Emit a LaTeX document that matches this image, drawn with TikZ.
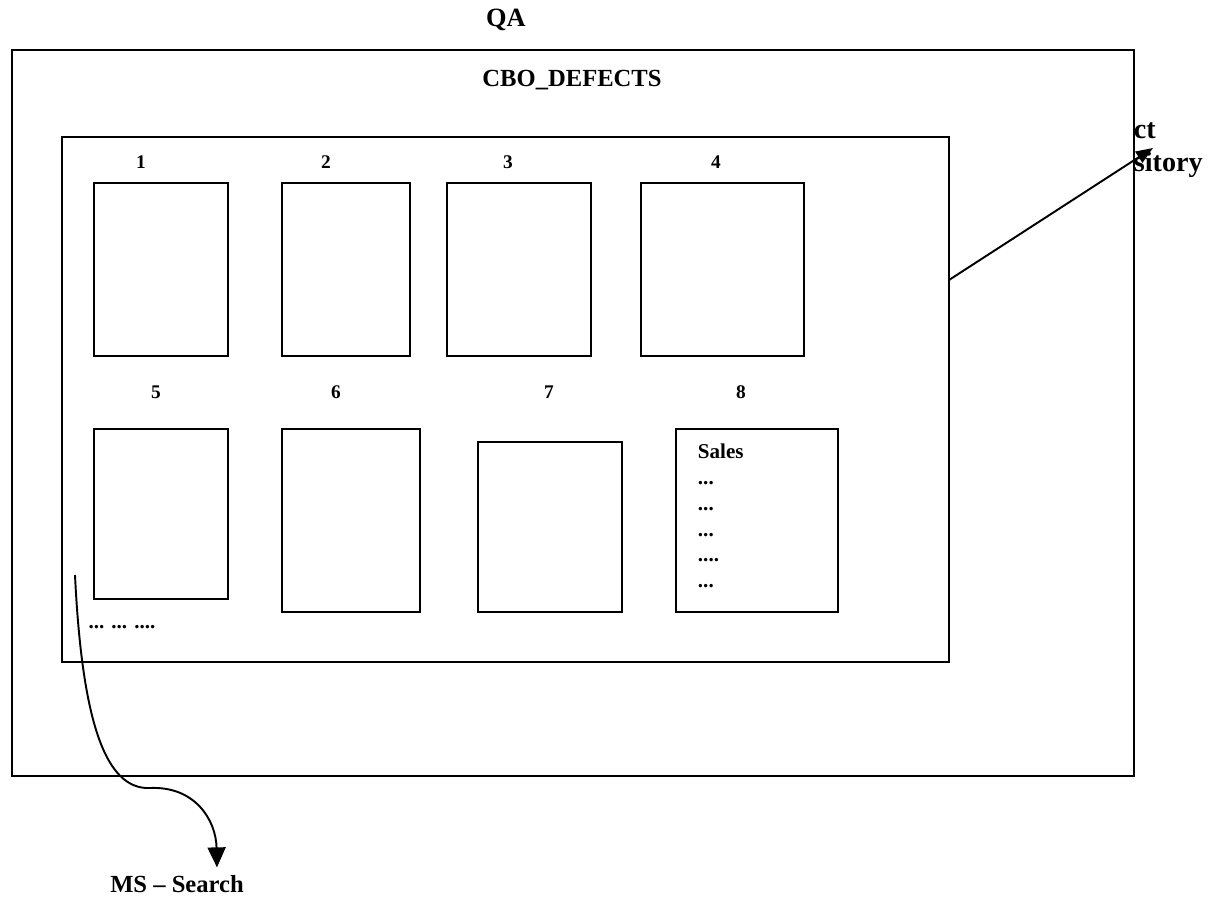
\documentclass[tikz,border=0pt]{standalone}
\usepackage{fontspec}
\setmainfont{Liberation Serif}
\usetikzlibrary{arrows.meta}

\begin{document}
\begin{tikzpicture}[x=0.2mm, y=-0.2mm, line width=1.1pt,
    frame/.style={draw, inner sep=0pt, outer sep=0pt},
    pane/.style={frame, fill=white},
    num/.style={font=\fontsize{11}{13}\selectfont\bfseries, inner sep=0pt},
    title/.style={font=\fontsize{15}{18}\selectfont\bfseries, inner sep=0pt},
    note/.style={font=\fontsize{12}{14.7}\selectfont\bfseries, inner sep=0pt, align=left},
    tip/.style={-{Triangle[length=4mm,width=3.6mm]}}]

    \useasboundingbox (0,0) rectangle (1214,902);

    \node[title] (qa) at (506,20) {QA};
    \node[title, font=\fontsize{16}{19}\selectfont\bfseries, align=left, anchor=west] (repo) at (1133,150) {ct\\sitory};
    \node[pane, minimum width=224.4mm, minimum height=145.2mm] (outer) at (573,413) {};
    \node[title, font=\fontsize{14}{17}\selectfont\bfseries] (cbo) at (572,80) {CBO\_DEFECTS};
    \node[frame, minimum width=177.4mm, minimum height=105mm] (inner) at (505.5,399.5) {};

    \node[frame, minimum width=26.8mm, minimum height=34.6mm] (p1) at (161,269.5) {};
    \node[frame, minimum width=25.6mm, minimum height=34.6mm] (p2) at (346,269.5) {};
    \node[frame, minimum width=28.8mm, minimum height=34.6mm] (p3) at (519,269.5) {};
    \node[frame, minimum width=32.6mm, minimum height=34.6mm] (p4) at (722.5,269.5) {};
    \node[frame, minimum width=26.8mm, minimum height=34mm] (p5) at (161,514) {};
    \node[frame, minimum width=27.6mm, minimum height=36.6mm] (p6) at (351,520.5) {};
    \node[frame, minimum width=28.8mm, minimum height=34mm] (p7) at (550,527) {};
    \node[frame, minimum width=32.4mm, minimum height=36.6mm] (p8) at (757,520.5) {};

    \node[num] (l1) at (141,162) {1};
    \node[num] (l2) at (326,162) {2};
    \node[num] (l3) at (508,162) {3};
    \node[num] (l4) at (716,162) {4};
    \node[num] (l5) at (156,392) {5};
    \node[num] (l6) at (336,392) {6};
    \node[num] (l7) at (549,392) {7};
    \node[num] (l8) at (741,392) {8};

    \node[note, anchor=north west] (sales) at (697,443)
        {Sales\\...\\...\\...\\....\\...};
    \node[note] (more) at (122,627) {... ... ....};
    \node[title, font=\fontsize{14}{17}\selectfont\bfseries] (ms) at (177,884) {MS -- Search};

    \coordinate (msfrom) at (75,575);
    \coordinate (repotip) at (1153,148);
    \draw[tip] (msfrom)
        .. controls (82,720) and (105,790) .. (150,788)
        .. controls (195,786) and (216,820) .. ([xshift=8mm,yshift=1.4mm]ms.north);
    \draw[-{Triangle[length=3.4mm,width=2.6mm]}] ([yshift=23.9mm]inner.east) -- (repotip);
\end{tikzpicture}
\end{document}
